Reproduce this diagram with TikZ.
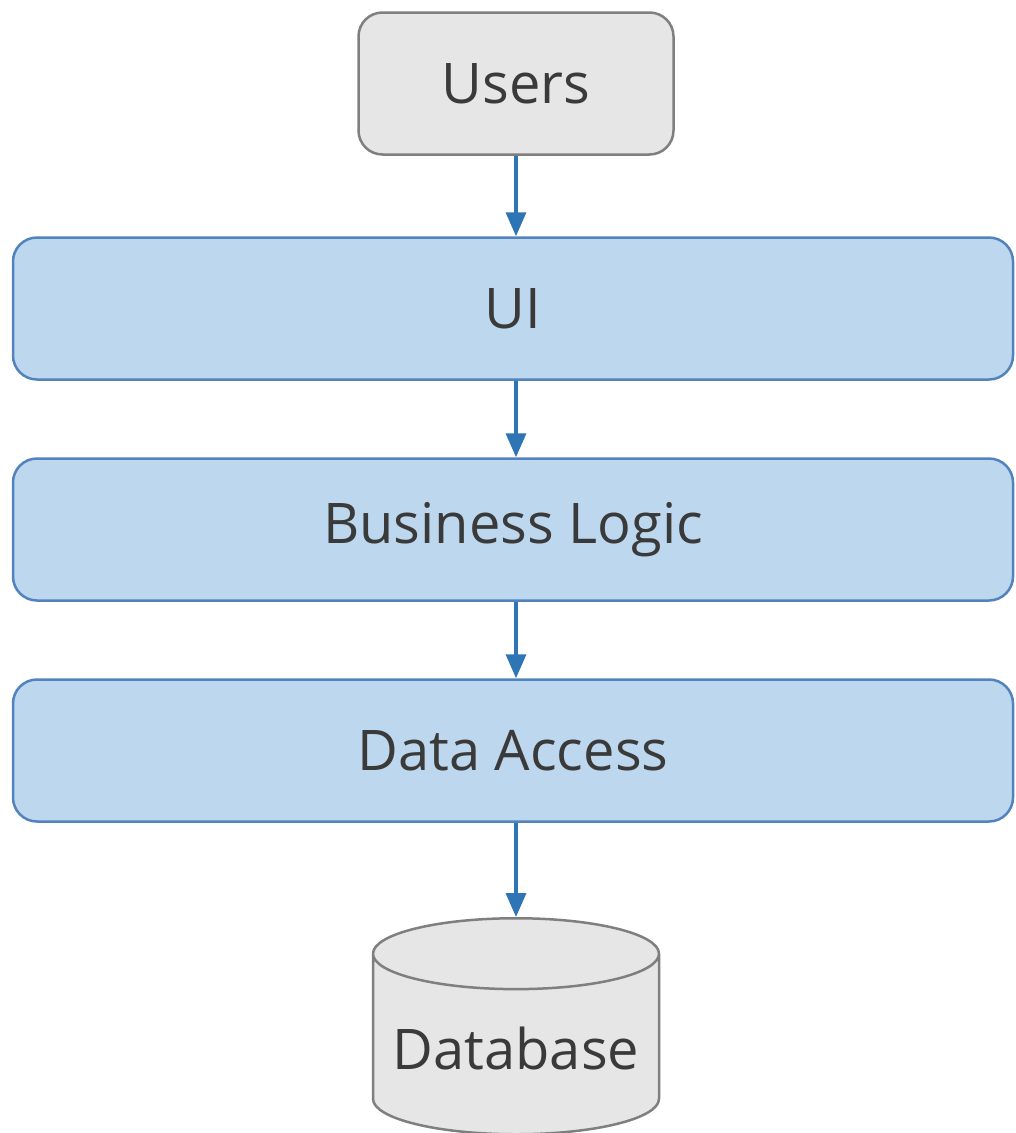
\documentclass[tikz,border=0pt]{standalone}
\usepackage{fontspec}
\setmainfont{Open Sans}
\usepackage{xcolor}
\usepackage{tikz}
\usetikzlibrary{shapes,arrows.meta,positioning}

\definecolor{layerfill}{HTML}{BDD7EE}
\definecolor{layerline}{HTML}{5283BD}
\definecolor{greyfill}{HTML}{E7E6E6}
\definecolor{greyline}{HTML}{7F7F7F}
\definecolor{flowblue}{HTML}{2E75B6}
\definecolor{labeltext}{HTML}{3A3A3A}

\tikzset{
  layer/.style={draw=layerline, fill=layerfill, line width=2.5pt, rounded corners=24pt,
    minimum width=1000pt, minimum height=142pt, text=labeltext},
  actor/.style={draw=greyline, fill=greyfill, line width=2.5pt, rounded corners=24pt,
    minimum width=315pt, minimum height=142pt, text=labeltext},
  store/.style={draw=greyline, fill=greyfill, line width=2.5pt, cylinder, shape border rotate=90,
    aspect=0.28, minimum width=286pt, minimum height=216pt, text=labeltext},
  flow/.style={draw=flowblue, line width=3.5pt, -{Triangle[width=20pt,length=24pt]}}
}

\begin{document}
\begin{tikzpicture}[x=1pt, y=-1pt, font=\fontsize{56}{66}\selectfont]
\useasboundingbox (0,0) rectangle (1016,1133);
\node[actor] (Users) at (516,83.5) {Users};
\node[layer] (UI) at (513,308.5) {UI};
\node[layer] (Logic) at (513,529.5) {Business Logic};
\node[layer] (Access) at (513,750.5) {Data Access};
\node[store, anchor=north] (DB) at (516,917) {Database};
\draw[flow] (Users.south) -- (Users.south |- UI.north);
\draw[flow] (UI.south -| Users.south) -- (Users.south |- Logic.north);
\draw[flow] (Logic.south -| Users.south) -- (Users.south |- Access.north);
\draw[flow] (Access.south -| Users.south) -- (DB.north);
\end{tikzpicture}
\end{document}
